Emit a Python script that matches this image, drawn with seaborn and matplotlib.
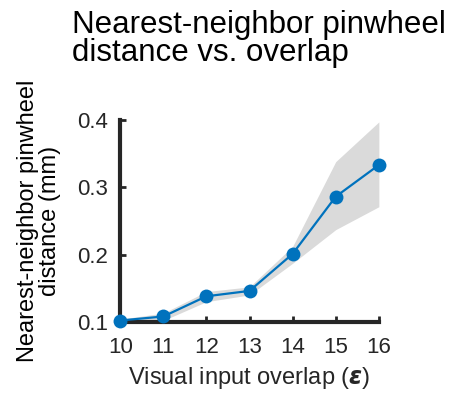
import numpy as np
import pandas as pd
import seaborn as sns
import matplotlib.pyplot as plt

# data
overlap = [10, 11, 12, 13, 14, 15, 16]
distance = [0.102, 0.108, 0.138, 0.146, 0.201, 0.286, 0.333]
band_low = [0.100, 0.102, 0.130, 0.140, 0.187, 0.237, 0.271]
band_high = [0.104, 0.113, 0.145, 0.152, 0.212, 0.338, 0.397]
yticks = [0.1, 0.2, 0.3, 0.4]

df = pd.DataFrame({'overlap': overlap, 'distance': distance})

sns.set_style('ticks')
plt.rcParams['font.family'] = ['Liberation Sans', 'DejaVu Sans']

fig = plt.figure(figsize=(4.57, 3.93), dpi=100)
ax = fig.add_axes([0.263, 0.181, 0.566, 0.514])

ax.fill_between(overlap, band_low, band_high, color='#dadada', lw=0, zorder=1)
sns.lineplot(data=df, x='overlap', y='distance', ax=ax, color='#0072BD',
             marker='o', markersize=10, markeredgewidth=0, lw=1.6, zorder=3,
             clip_on=False)

ax.set_xlim(10, 16)
ax.set_ylim(0.1, 0.4)
ax.set_xticks(overlap)
ax.set_yticks(yticks)
ax.set_yticklabels(['0.1', '0.2', '0.3', '0.4'])
sns.despine(ax=ax)
for s in ['left', 'bottom']:
    ax.spines[s].set_linewidth(3)
    ax.spines[s].set_color('#262626')
ax.tick_params(direction='in', length=4, width=2, color='#262626',
               labelsize=16, labelcolor='#262626')
ax.tick_params(axis='x', pad=11)
ax.tick_params(axis='y', pad=9)

ax.set_xlabel('Visual input overlap ($\\mathbfit{\\varepsilon}$)', fontsize=17,
              color='#262626', labelpad=5)
ax.set_ylabel('Nearest-neighbor pinwheel\ndistance (mm)', fontsize=17,
              color='black', labelpad=11, linespacing=1.0)
fig.text(0.158, 0.975, 'Nearest-neighbor pinwheel\ndistance vs. overlap',
         fontsize=22.5, ha='left', va='top', linespacing=0.92, color='black')

fig.savefig('out.png', dpi=100)
